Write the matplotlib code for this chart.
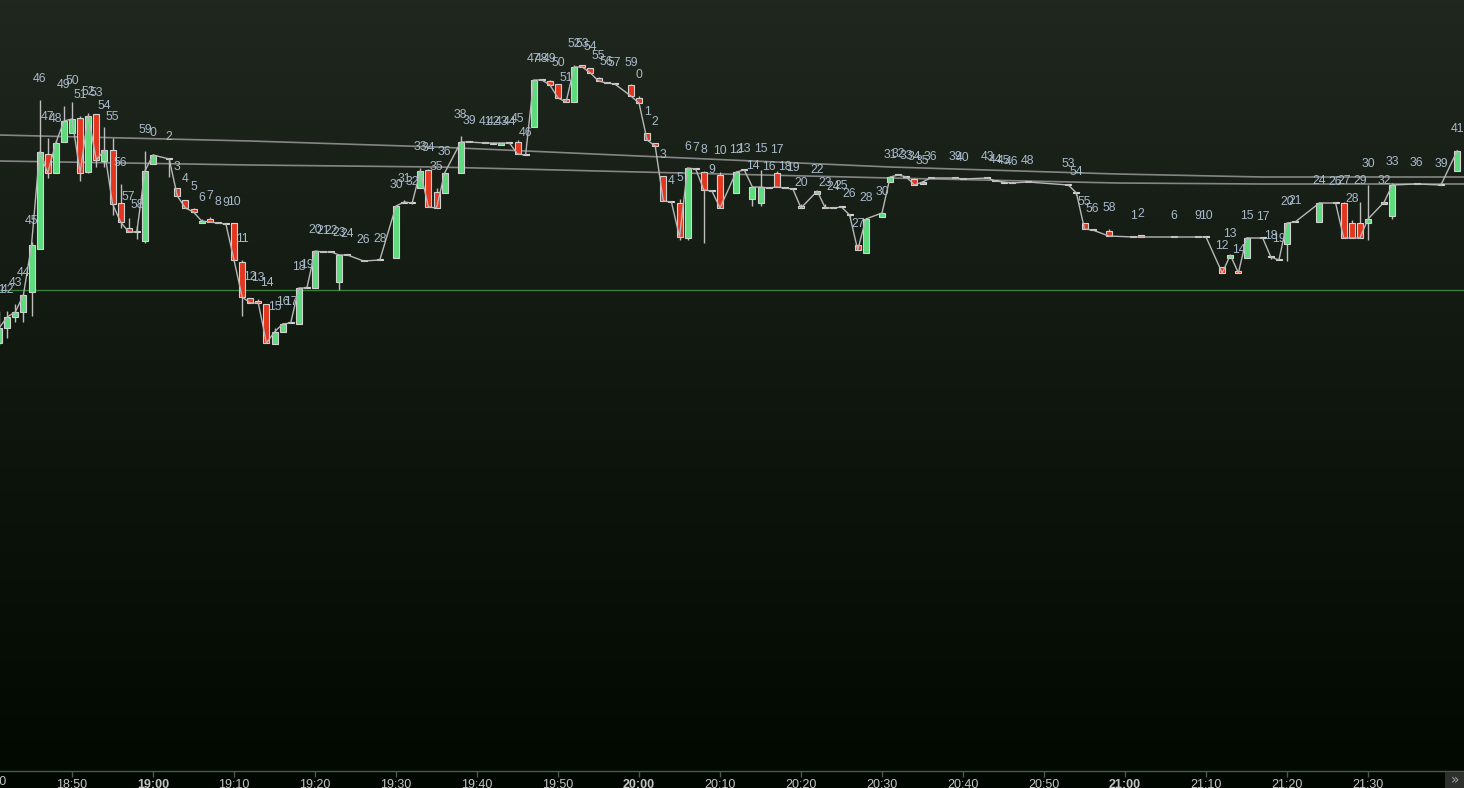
import numpy as np
import matplotlib
matplotlib.use("Agg")
import matplotlib.pyplot as plt
from matplotlib.colors import LinearSegmentedColormap
from matplotlib.patches import Rectangle

# minute bars (price in points)
times = ["18:41", "18:42", "18:43", "18:44", "18:45", "18:46", "18:47", "18:48", "18:49", "18:50",
         "18:51", "18:52", "18:53", "18:54", "18:55", "18:56", "18:57", "18:58", "18:59",
         "19:00", "19:02", "19:03", "19:04", "19:05", "19:06", "19:07", "19:08", "19:09", "19:10",
         "19:11", "19:12", "19:13", "19:14", "19:15", "19:16", "19:17", "19:18", "19:19", "19:20",
         "19:21", "19:22", "19:23", "19:24", "19:26", "19:28", "19:30", "19:31", "19:32", "19:33",
         "19:34", "19:35", "19:36", "19:38", "19:39", "19:41", "19:42", "19:43", "19:44", "19:45",
         "19:46", "19:47", "19:48", "19:49", "19:50", "19:51", "19:52", "19:53", "19:54", "19:55",
         "19:56", "19:57", "19:59",
         "20:00", "20:01", "20:02", "20:03", "20:04", "20:05", "20:06", "20:07", "20:08", "20:09",
         "20:10", "20:12", "20:13", "20:14", "20:15", "20:16", "20:17", "20:18", "20:19", "20:20",
         "20:22", "20:23", "20:24", "20:25", "20:26", "20:27", "20:28", "20:30", "20:31", "20:32",
         "20:33", "20:34", "20:35", "20:36", "20:39", "20:40", "20:43", "20:44", "20:45", "20:46",
         "20:48", "20:53", "20:54", "20:55", "20:56", "20:58",
         "21:01", "21:02", "21:06", "21:09", "21:10", "21:12", "21:13", "21:14", "21:15", "21:17",
         "21:18", "21:19", "21:20", "21:21", "21:24", "21:26", "21:27", "21:28", "21:29", "21:30",
         "21:32", "21:33", "21:36", "21:39", "21:41"]

opens = [57, 72, 83, 88, 108, 151, 246, 227, 258, 267,
         282, 228, 286, 239, 250, 197, 172, 168, 159,
         236, 241, 212, 200, 191, 177, 181, 177, 176, 177,
         138, 102, 99, 96, 56, 68, 77, 76, 113, 112,
         148, 148, 118, 145, 139, 140, 142, 197, 197, 212,
         230, 208, 207, 227, 258, 257, 256, 255, 257, 258,
         245, 273, 320, 319, 316, 301, 298, 335, 332, 322,
         317, 316, 315,
         302, 267, 257, 224, 198, 197, 162, 231, 228, 209,
         225, 207, 230, 201, 197, 212, 227, 212, 211, 194,
         206, 193, 192, 193, 185, 155, 147, 183, 218, 225,
         223, 221, 216, 222, 222, 221, 222, 219, 217, 217,
         218, 215, 207, 177, 170, 169,
         163, 165, 163, 163, 163, 133, 142, 129, 142, 162,
         143, 140, 156, 178, 178, 197, 197, 177, 177, 177,
         196, 184, 216, 215, 229]

highs = [89, 89, 96, 106, 158, 300, 262, 260, 294, 298,
         284, 287, 286, 273, 262, 216, 182, 174, 249,
         246, 242, 212, 200, 192, 181, 183, 177, 176, 177,
         140, 102, 101, 96, 72, 77, 77, 112, 114, 149,
         148, 148, 146, 145, 139, 140, 194, 200, 197, 232,
         231, 212, 227, 264, 258, 257, 257, 257, 257, 260,
         246, 320, 320, 320, 316, 301, 335, 335, 332, 323,
         317, 316, 316,
         304, 267, 257, 224, 198, 201, 232, 231, 229, 209,
         228, 229, 230, 213, 230, 212, 229, 212, 211, 196,
         209, 196, 192, 193, 185, 155, 181, 187, 224, 225,
         223, 222, 218, 222, 222, 221, 222, 219, 218, 217,
         218, 215, 207, 177, 170, 171,
         163, 165, 163, 163, 163, 133, 145, 129, 163, 162,
         143, 140, 177, 178, 198, 197, 198, 180, 198, 215,
         198, 217, 216, 215, 250]

lows = [55, 62, 78, 78, 84, 151, 222, 227, 258, 267,
        219, 227, 233, 233, 185, 172, 168, 161, 157,
        236, 223, 204, 192, 188, 177, 178, 177, 176, 140,
        84, 97, 97, 57, 56, 68, 77, 76, 112, 112,
        148, 148, 110, 145, 139, 140, 142, 197, 196, 212,
        193, 192, 207, 227, 258, 257, 256, 255, 257, 246,
        245, 273, 320, 315, 302, 298, 298, 333, 327, 319,
        317, 316, 304,
        297, 260, 254, 199, 198, 160, 160, 231, 157, 209,
        192, 207, 230, 194, 194, 212, 213, 212, 211, 192,
        206, 192, 192, 193, 183, 150, 147, 183, 218, 225,
        223, 215, 216, 222, 222, 221, 222, 219, 217, 217,
        218, 215, 205, 171, 170, 164,
        163, 163, 163, 163, 163, 127, 142, 127, 142, 162,
        141, 140, 139, 178, 178, 197, 162, 162, 162, 160,
        196, 181, 216, 215, 229]

closes = [72, 83, 88, 105, 155, 248, 227, 257, 279, 281,
          227, 284, 240, 250, 196, 178, 168, 168, 229,
          245, 241, 204, 192, 188, 179, 178, 177, 176, 140,
          103, 97, 97, 57, 68, 76, 77, 112, 112, 149,
          148, 148, 145, 145, 139, 140, 194, 198, 197, 229,
          193, 192, 227, 258, 258, 257, 257, 257, 257, 246,
          245, 320, 320, 315, 302, 298, 333, 333, 327, 319,
          317, 316, 304,
          297, 260, 254, 199, 198, 163, 232, 231, 210, 209,
          192, 228, 230, 213, 213, 212, 213, 212, 211, 192,
          209, 192, 192, 193, 185, 150, 181, 187, 223, 225,
          223, 215, 218, 222, 222, 221, 222, 219, 218, 217,
          218, 215, 207, 171, 170, 164,
          163, 163, 163, 163, 163, 127, 145, 127, 162, 162,
          143, 140, 177, 178, 197, 197, 162, 162, 162, 181,
          198, 215, 216, 215, 249]

# drawn reference lines
trend_t = ["18:41", "19:12", "19:35", "20:00", "20:31", "20:59", "21:17", "21:42"]
upper_line = [265, 259, 253, 244, 233, 226, 223, 223]
lower_line = [239, 235, 233, 228, 222, 217, 216, 216]
support_level = 110

tick_labels = ["18:50", "19:00", "19:10", "19:20", "19:30", "19:40", "19:50", "20:00",
               "20:10", "20:20", "20:30", "20:40", "20:50", "21:00", "21:10", "21:20", "21:30"]


def to_min(s):
    h, m = s.split(":")
    return (int(h) - 18) * 60 + int(m)


t = np.array([to_min(s) for s in times], dtype=float)
o = np.array(opens, dtype=float)
h = np.array(highs, dtype=float)
l = np.array(lows, dtype=float)
c = np.array(closes, dtype=float)

fig = plt.figure(figsize=(14.64, 7.88), dpi=100, facecolor="#000700")
ax = fig.add_axes([0, 17 / 788, 1, 771 / 788])
ax.set_xlim(41.11, 221.85)
ax.set_ylim(-371, 400)

# background gradient
bg = LinearSegmentedColormap.from_list("bg", ["#010901", "#0f170f", "#1f271f"])
grad = np.linspace(0, 1, 256).reshape(-1, 1)
ax.imshow(grad, extent=[0, 1, 0, 1], transform=ax.transAxes, aspect="auto",
          cmap=bg, origin="lower", zorder=0)

tt = [to_min(s) for s in trend_t]
ax.plot(tt, upper_line, color="#858585", lw=1.2, zorder=1)
ax.plot(tt, lower_line, color="#858585", lw=1.2, zorder=1)
ax.axhline(support_level, color="#3a7f3a", lw=1, zorder=1)

# candles
w = 0.74
for ti, oi, hi, li, ci in zip(t, o, h, l, c):
    ax.vlines(ti, li, hi, color="#bdbdbd", lw=1, zorder=2)
    if ci > oi:
        fc = "#5cdc7c"
    elif ci < oi:
        fc = "#e3361f"
    else:
        fc = "#c8c8c8"
    bottom = min(oi, ci)
    height = max(abs(ci - oi), 1)
    ax.add_patch(Rectangle((ti - w / 2, bottom), w, height, facecolor=fc,
                           edgecolor="#d2d2d2", lw=0.8, zorder=3))

# close line
ax.plot(t, c, color="#b8b8b8", lw=1, zorder=4)

# minute labels
for s, ti, hi in zip(times, t, h):
    ax.annotate(str(int(s.split(":")[1])), (ti, hi), xytext=(0, 21),
                textcoords="offset pixels", ha="center", va="center",
                fontsize=8.8, family="Liberation Sans", color="#a9bacb",
                zorder=5, annotation_clip=False)

# time axis
ticks = [to_min(s) for s in tick_labels]
ax.set_xticks(ticks)
ax.set_xticklabels(tick_labels)
for lab in ax.get_xticklabels():
    lab.set_family("Liberation Sans")
    if lab.get_text().endswith(":00"):
        lab.set_fontweight("bold")
ax.tick_params(axis="x", direction="out", length=4, width=1, color="#4c5a4c",
               labelcolor="#c4c4c4", labelsize=9, pad=1.5)
ax.set_yticks([])
for side in ["top", "left", "right"]:
    ax.spines[side].set_visible(False)
ax.spines["bottom"].set_color("#4c5a4c")
ax.spines["bottom"].set_linewidth(1)
ax.text(40, -11 / 771, "18:40", transform=ax.get_xaxis_transform(), ha="center", va="center",
        fontsize=9, family="Liberation Sans", color="#c4c4c4", clip_on=False)

# scroll button
fig.patches.append(Rectangle((1445 / 1464, 0), 19 / 1464, 16 / 788, transform=fig.transFigure,
                             facecolor="#2e302e", edgecolor="none"))
fig.text(1454.5 / 1464, 8 / 788, "»", ha="center", va="center", fontsize=10,
         color="#a0a0a0")

fig.savefig("out.png", dpi=100, facecolor=fig.get_facecolor())
